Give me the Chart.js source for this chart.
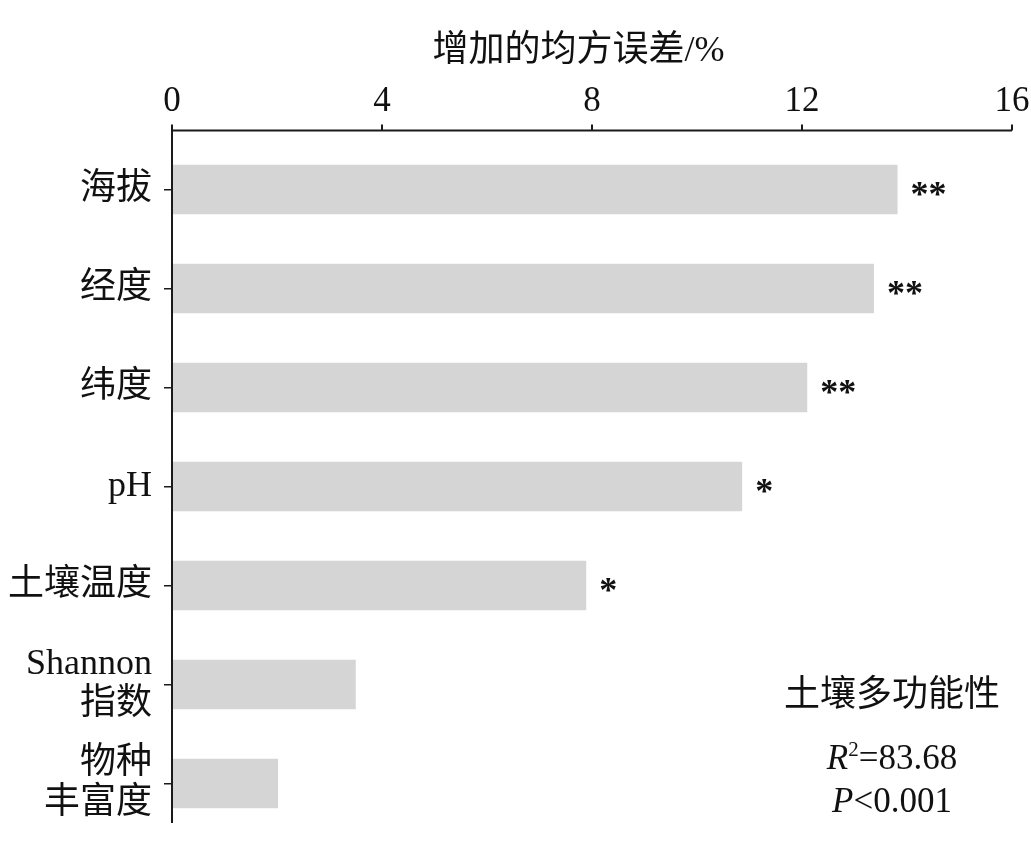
<!DOCTYPE html>
<html>
<head>
<meta charset="utf-8">
<script src="https://cdn.jsdelivr.net/npm/chart.js@4.4.1/dist/chart.umd.min.js"></script>
<style>
  html, body { margin: 0; padding: 0; background: #fff; }
  #wrap { width: 1031px; height: 853px; position: relative; }
</style>
</head>
<body>
<div id="wrap"><canvas id="chart"></canvas></div>
<script>
// data
const labels = ['海拔', '经度', '纬度', 'pH', '土壤温度', ['Shannon', '指数'], ['物种', '丰富度']];
const incMSE = [13.82, 13.37, 12.10, 10.86, 7.89, 3.50, 2.02];
const signif = ['**', '**', '**', '*', '*', '', ''];
const xTicks = [0, 4, 8, 12, 16];
const axisTitle = '增加的均方误差/%';
const modelName = '土壤多功能性';
const r2Value = '83.68';
const pValue = '<0.001';

const FONT = "'Liberation Serif', 'Noto Sans CJK SC', serif";

// top x axis line sits a bit above the first category band
const axisPlugin = {
  id: 'axisLines',
  afterDatasetsDraw(chart) {
    const { ctx, chartArea, scales } = chart;
    const x = scales.x;
    const yTop = chartArea.top - 9.5;
    ctx.save();
    ctx.strokeStyle = '#1a1a1a';
    ctx.lineWidth = 2;
    ctx.beginPath();
    ctx.moveTo(x.getPixelForValue(xTicks[0]), yTop);
    ctx.lineTo(x.getPixelForValue(xTicks[xTicks.length - 1]), yTop);
    xTicks.forEach(t => {
      const px = x.getPixelForValue(t);
      ctx.moveTo(px, yTop);
      ctx.lineTo(px, yTop - 6);
    });
    ctx.moveTo(chartArea.left, yTop);
    ctx.lineTo(chartArea.left, chartArea.bottom - 10);
    ctx.stroke();

    // significance stars
    const meta = chart.getDatasetMeta(0);
    ctx.fillStyle = '#111';
    ctx.font = "bold 36px 'Liberation Serif', serif";
    ctx.textAlign = 'left';
    ctx.textBaseline = 'alphabetic';
    meta.data.forEach((bar, i) => {
      if (!signif[i]) return;
      ctx.fillText(signif[i], bar.x + 13, bar.y + 16);
    });

    // model annotation
    const cx = chartArea.right - 120;
    ctx.textAlign = 'center';
    ctx.textBaseline = 'middle';
    ctx.font = "36px 'Noto Sans CJK SC', sans-serif";
    ctx.fillText(modelName, cx, chartArea.bottom - 141);

    const yR = chartArea.bottom - 76;
    const fMain = "35px 'Liberation Serif', serif";
    const fIt = "italic 35px 'Liberation Serif', serif";
    const fSup = "21px 'Liberation Serif', serif";
    ctx.textAlign = 'left';
    ctx.textBaseline = 'alphabetic';
    ctx.font = fIt; const wR = ctx.measureText('R').width;
    ctx.font = fSup; const w2 = ctx.measureText('2').width;
    ctx.font = fMain; const wRest = ctx.measureText('=' + r2Value).width;
    let sx = cx - (wR + w2 + wRest) / 2;
    const base = yR + 12;
    ctx.font = fIt; ctx.fillText('R', sx, base); sx += wR;
    ctx.font = fSup; ctx.fillText('2', sx, base - 13); sx += w2;
    ctx.font = fMain; ctx.fillText('=' + r2Value, sx, base);

    const yP = chartArea.bottom - 33;
    ctx.font = fIt; const wP = ctx.measureText('P').width;
    ctx.font = fMain; const wPv = ctx.measureText(pValue).width;
    sx = cx - (wP + wPv) / 2;
    ctx.font = fIt; ctx.fillText('P', sx, yP + 12); sx += wP;
    ctx.font = fMain; ctx.fillText(pValue, sx, yP + 12);
    ctx.restore();
  }
};

new Chart(document.getElementById('chart'), {
  type: 'bar',
  data: {
    labels: labels,
    datasets: [{
      data: incMSE,
      backgroundColor: '#d5d5d5',
      borderWidth: 0,
      barPercentage: 0.5,
      categoryPercentage: 1.0
    }]
  },
  options: {
    indexAxis: 'y',
    responsive: true,
    maintainAspectRatio: false,
    animation: false,
    layout: { padding: { left: 0, right: 19, top: 0, bottom: 20 } },
    plugins: {
      legend: { display: false },
      tooltip: { enabled: false }
    },
    scales: {
      x: {
        position: 'top',
        min: 0,
        max: 16,
        afterBuildTicks: (scale) => { scale.ticks = xTicks.map(v => ({ value: v })); },
        afterFit: (scale) => {
          scale.height = 140;
          scale.paddingLeft = 0;
          scale.paddingRight = 0;
        },
        grid: { display: false, drawTicks: false },
        border: { display: false },
        ticks: {
          padding: 17,
          color: '#111',
          font: { family: FONT, size: 35 }
        },
        title: {
          display: true,
          // trailing spaces nudge the centred title a little left, as in the original
          text: axisTitle + '   ',
          color: '#111',
          padding: { top: 30, bottom: 0 },
          font: { family: FONT, size: 36 }
        }
      },
      y: {
        afterFit: (scale) => {
          scale.width = 172;
          scale.paddingTop = 0;
          scale.paddingBottom = 0;
        },
        grid: {
          offset: false,
          drawOnChartArea: false,
          drawTicks: true,
          tickLength: 8,
          color: '#1a1a1a',
          lineWidth: 1.5
        },
        border: { display: false },
        ticks: {
          padding: 12,
          color: '#111',
          font: { family: FONT, size: 36, lineHeight: 1.1 }
        }
      }
    }
  },
  plugins: [axisPlugin]
});
</script>
</body>
</html>
